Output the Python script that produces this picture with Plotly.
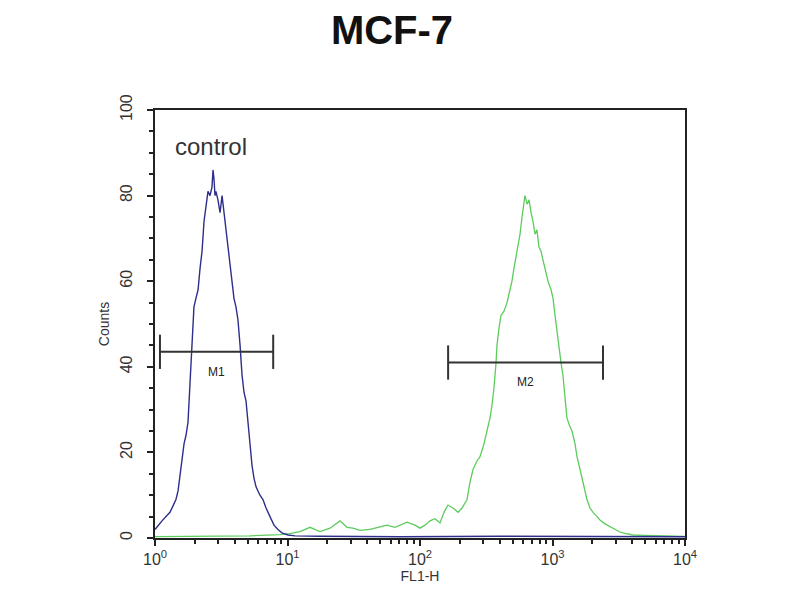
import numpy as np
import plotly.graph_objects as go

# log10(FL1-H) positions and counts for the control (blue) histogram
control_log = [0.000, 0.023, 0.053, 0.083, 0.113, 0.136, 0.158, 0.174, 0.189, 0.204,
               0.219, 0.234, 0.249, 0.264, 0.279, 0.294, 0.309, 0.325, 0.340, 0.355,
               0.370, 0.385, 0.400, 0.415, 0.430, 0.438, 0.445, 0.453, 0.460, 0.475,
               0.491, 0.506, 0.521, 0.536, 0.551, 0.566, 0.581, 0.596, 0.611, 0.626,
               0.642, 0.657, 0.672, 0.687, 0.702, 0.717, 0.732, 0.747, 0.762, 0.777,
               0.792, 0.815, 0.838, 0.868, 0.898, 0.928, 0.958, 1.004, 1.057, 1.245,
               1.849, 2.604, 3.358, 4.000]
control_counts = [2, 3, 4, 5, 6, 7.5, 9, 11, 15, 19,
                  22, 24, 27, 36, 45, 54, 56, 58, 63, 67,
                  74, 78, 81, 80, 82, 86, 84, 80, 81, 79,
                  76, 80, 76, 72, 68, 64, 60, 56, 54, 51,
                  45, 38, 34, 32, 27, 22, 17, 14, 12, 11,
                  10, 9, 7, 5, 3, 2, 1.2, 0.7, 0.5, 0.4,
                  0.3, 0.4, 0.3, 0.3]

# log10(FL1-H) positions and counts for the sample (green) histogram
sample_log = [0.000, 0.340, 0.717, 0.943, 1.019, 1.094, 1.170, 1.245, 1.321, 1.396,
              1.449, 1.494, 1.547, 1.623, 1.698, 1.751, 1.811, 1.902, 1.962, 2.000,
              2.038, 2.075, 2.113, 2.151, 2.181, 2.211, 2.249, 2.287, 2.317, 2.355,
              2.377, 2.400, 2.430, 2.453, 2.483, 2.506, 2.528, 2.543, 2.558, 2.574,
              2.581, 2.596, 2.611, 2.634, 2.657, 2.679, 2.694, 2.709, 2.725, 2.740,
              2.755, 2.770, 2.785, 2.792, 2.808, 2.823, 2.838, 2.853, 2.868, 2.883,
              2.898, 2.913, 2.928, 2.943, 2.966, 2.989, 3.004, 3.019, 3.034, 3.049,
              3.064, 3.079, 3.094, 3.109, 3.132, 3.147, 3.170, 3.185, 3.208, 3.223,
              3.245, 3.260, 3.283, 3.306, 3.336, 3.358, 3.396, 3.434, 3.472, 3.509,
              3.547, 3.608, 3.698, 3.811, 4.000]
sample_counts = [0.3, 0.4, 0.5, 0.8, 1.0, 1.5, 2.5, 1.5, 2.3, 4,
                 2.5, 2.3, 1.8, 2, 2.5, 3, 2.5, 3.7, 3, 2.3,
                 3, 4, 4.5, 3.5, 6, 7.7, 7, 6, 7, 9,
                 13, 16, 18, 19, 22, 25, 28, 31, 35, 41,
                 45, 49, 52, 53, 55, 58, 60, 63, 66, 68,
                 71, 75, 79, 80, 78, 79, 76, 74, 71, 72,
                 68, 67, 65, 63, 60, 58, 56, 52, 48, 44,
                 41, 38, 33, 28, 26, 25, 22, 19, 16, 14,
                 11, 9, 7, 6, 5, 4.2, 3.3, 2.6, 2, 1.4,
                 1.1, 0.7, 0.6, 0.5, 0.4]

# Marker gates: [start, end] in FL1-H, level in counts
m1_range = [1.09, 7.8]
m1_level = 43.5
m2_range = [163, 2405]
m2_level = 41

x_ticks = [1, 10, 100, 1000, 10000]
x_ticktext = ["10<sup>0</sup>", "10<sup>1</sup>", "10<sup>2</sup>", "10<sup>3</sup>", "10<sup>4</sup>"]
y_ticks = [0, 20, 40, 60, 80, 100]

fig = go.Figure()
fig.add_trace(go.Scatter(x=10 ** np.array(sample_log), y=sample_counts, mode="lines",
                         line=dict(color="#5ccc5c", width=1.3),
                         showlegend=False))
fig.add_trace(go.Scatter(x=10 ** np.array(control_log), y=control_counts, mode="lines",
                         line=dict(color="#2e2e8c", width=1.4),
                         showlegend=False))

gate_color = "#333333"
for rng, lvl, name in [(m1_range, m1_level, "M1"), (m2_range, m2_level, "M2")]:
    fig.add_trace(go.Scatter(x=rng, y=[lvl, lvl], mode="lines",
                             line=dict(color=gate_color, width=2), showlegend=False))
    for xv in rng:
        fig.add_trace(go.Scatter(x=[xv, xv], y=[lvl - 4, lvl + 4], mode="lines",
                                 line=dict(color=gate_color, width=2), showlegend=False))
    xc = 10 ** ((np.log10(rng[0]) + np.log10(rng[1])) / 2)
    fig.add_annotation(x=np.log10(xc), y=lvl - 4.6, text=name, showarrow=False,
                       font=dict(size=12, color="#222222", family="Liberation Sans"))

fig.add_annotation(x=0.423, y=91.4, text="control", showarrow=False,
                   font=dict(size=24, color="#333333", family="Liberation Sans"))

minor_x = [m * 10 ** d for d in range(4) for m in range(2, 10)]

fig.update_layout(
    width=800, height=600,
    margin=dict(l=147, r=123, t=102, b=70),
    paper_bgcolor="white", plot_bgcolor="white",
    title=dict(text="<b>MCF-7</b>", x=0.48, xanchor="center", y=0.963, yanchor="middle",
               font=dict(size=40, color="#111111", family="Liberation Sans")),
    xaxis=dict(type="log", range=[0, 4], tickvals=x_ticks, ticktext=x_ticktext,
               ticks="outside", ticklen=6, tickwidth=1.5, tickcolor="#222",
               showline=True, linecolor="#222", linewidth=1.5, mirror=True,
               showgrid=False, zeroline=False,
               tickfont=dict(size=16, color="#333", family="Liberation Sans"),
               title=dict(text="FL1-H", font=dict(size=14, color="#333", family="Liberation Sans"),
                          standoff=1),
               minor=dict(tickvals=minor_x, ticks="outside", ticklen=4, tickcolor="#222",
                          showgrid=False)),
    yaxis=dict(range=[0, 100], tickvals=y_ticks, tickangle=-90,
               ticks="outside", ticklen=6, tickwidth=1.5, tickcolor="#222",
               ticklabelstandoff=9,
               showline=True, linecolor="#222", linewidth=1.5, mirror=True,
               showgrid=False, zeroline=False,
               tickfont=dict(size=16, color="#333", family="Liberation Sans"),
               title=dict(text="Counts", font=dict(size=14, color="#333", family="Liberation Sans"),
                          standoff=5),
               minor=dict(dtick=5, ticks="outside", ticklen=4, tickcolor="#222",
                          showgrid=False)),
)

fig.write_html("out.html")
